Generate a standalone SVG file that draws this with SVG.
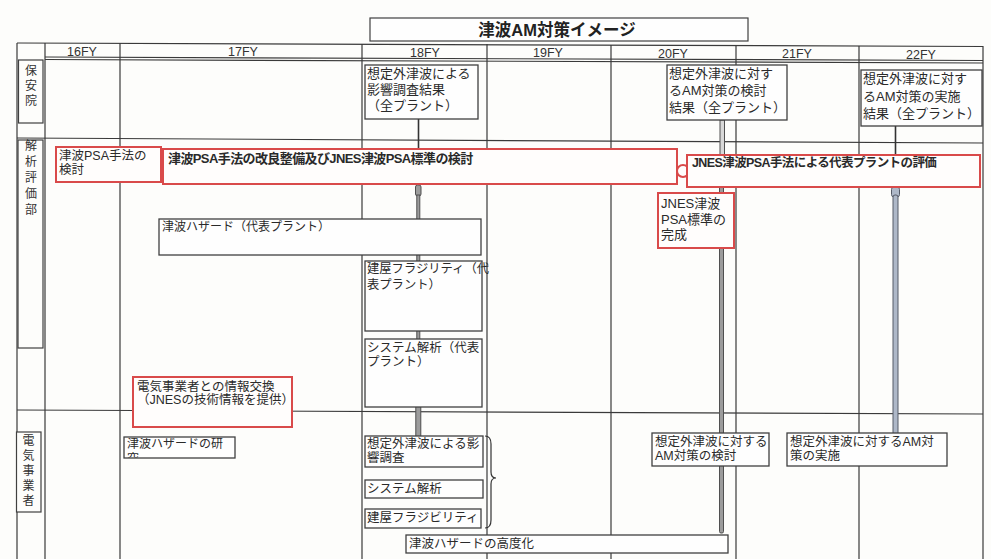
<svg xmlns="http://www.w3.org/2000/svg" width="991" height="559" viewBox="0 0 991 559">
<defs>
<style>
.grid{stroke:#3a3a3a;stroke-width:1.2;fill:none}
.box{fill:#fefefe;stroke:#404040;stroke-width:1.3}
.rbox{fill:#fffdfc;stroke:#d94a4a;stroke-width:2}
.lbl{fill:#fdfdfb;stroke:#404040;stroke-width:1.2}
.t{font-family:"Liberation Sans","Noto Sans CJK JP",sans-serif;fill:#2a2a2a}
.fy{font-family:"Liberation Sans",sans-serif;font-size:12.5px;fill:#333;text-anchor:middle}
.v{font-family:"Noto Sans CJK JP",sans-serif;font-size:12px;fill:#333;writing-mode:vertical-rl}
.pipe{fill:#9c9c9c;stroke:#505050;stroke-width:1}
.bpipe{fill:#aeb8c8;stroke:#555a66;stroke-width:1}
</style>
<clipPath id="clipHaz"><rect x="125" y="438" width="109" height="19.5"/></clipPath>
</defs>
<rect width="991" height="559" fill="#fdfdfb"/>

<g id="title">
<rect x="370" y="18" width="378" height="23" fill="#fefefe" stroke="#404040" stroke-width="1.2"/>
<text x="557" y="36" font-family="Liberation Sans,'Noto Sans CJK JP',sans-serif" font-size="16.5" font-weight="bold" fill="#222" text-anchor="middle">津波AM対策イメージ</text>
</g>

<g id="table">
<line class="grid" x1="17" y1="43" x2="983" y2="46.5"/>
<line class="grid" x1="45" y1="57" x2="983" y2="60.5"/>
<line class="grid" x1="45" y1="59.5" x2="983" y2="63"/>
<line class="grid" x1="17" y1="138" x2="983" y2="143"/>
<line class="grid" x1="17" y1="410" x2="983" y2="414"/>
<line class="grid" x1="17" y1="43" x2="17" y2="559"/>
<line class="grid" x1="45" y1="43" x2="45" y2="559"/>
<line class="grid" x1="120" y1="43" x2="120" y2="559"/>
<line class="grid" x1="362" y1="44" x2="362" y2="559"/>
<line class="grid" x1="487" y1="44" x2="487" y2="559"/>
<line class="grid" x1="611" y1="45" x2="611" y2="559"/>
<line class="grid" x1="736" y1="45" x2="736" y2="559"/>
<line class="grid" x1="859" y1="46" x2="859" y2="559"/>
<line class="grid" x1="983" y1="46" x2="983" y2="559"/>
<text class="fy" x="82" y="56">16FY</text>
<text class="fy" x="243" y="56">17FY</text>
<text class="fy" x="425" y="57">18FY</text>
<text class="fy" x="548" y="57">19FY</text>
<text class="fy" x="673" y="58">20FY</text>
<text class="fy" x="797" y="58">21FY</text>
<text class="fy" x="921" y="59">22FY</text>
</g>

<g id="row-hoanin">
<rect class="lbl" x="18.5" y="60" width="24.5" height="63"/>
<text class="v" x="31" y="64" style="letter-spacing:3px">保安院</text>
</g>
<g id="row-kaiseki">
<rect class="lbl" x="18" y="140" width="25" height="208"/>
<text class="v" x="31" y="139" style="letter-spacing:4px">解析評価部</text>
</g>
<g id="row-denki">
<rect class="lbl" x="16.5" y="432" width="24.5" height="80"/>
<text class="v" x="28.5" y="434" style="letter-spacing:3px">電気事業者</text>
</g>

<g id="connectors">
<line x1="418.5" y1="119" x2="418.5" y2="149" stroke="#333" stroke-width="1.6"/>
<rect class="pipe" x="415.5" y="185" width="5.5" height="11" rx="2"/>
<rect class="pipe" x="416.8" y="195" width="3" height="242"/>
<rect class="pipe" x="415.8" y="405" width="5" height="32"/>
<rect x="720" y="120" width="4.5" height="35" fill="#d8d8d8" stroke="#505050" stroke-width="1"/>
<rect class="pipe" x="719.5" y="186" width="4" height="347" rx="1.5"/>
<line x1="895.5" y1="126" x2="895.5" y2="155" stroke="#333" stroke-width="1.6"/>
<rect class="bpipe" x="891.5" y="187" width="8" height="10" rx="2.5"/>
<rect class="bpipe" x="893" y="195" width="5" height="242" rx="2"/>
<path d="M485,436 Q491,436 491,444 L491,472 Q491,478 496,478 Q491,478 491,484 L491,520 Q491,528 485,528" fill="none" stroke="#333" stroke-width="1.2"/>
</g>

<g id="n-hoanin-18">
<rect class="box" x="365" y="65" width="113" height="54"/>
<text class="t" x="367" y="78" style="font-size:13px">想定外津波による</text>
<text class="t" x="367" y="94" style="font-size:13px">影響調査結果</text>
<text class="t" x="367" y="110" style="font-size:13px">（全プラント）</text>
</g>
<g id="n-hoanin-20">
<rect class="box" x="667" y="65" width="120" height="55"/>
<text class="t" x="669" y="78" style="font-size:13px">想定外津波に対す</text>
<text class="t" x="669" y="95" style="font-size:13px">るAM対策の検討</text>
<text class="t" x="669" y="112" style="font-size:13px">結果（全プラント）</text>
</g>
<g id="n-hoanin-22">
<rect class="box" x="861" y="70" width="121" height="56"/>
<text class="t" x="863" y="83" style="font-size:13px">想定外津波に対す</text>
<text class="t" x="863" y="101" style="font-size:13px">るAM対策の実施</text>
<text class="t" x="863" y="118" style="font-size:13px">結果（全プラント）</text>
</g>

<g id="n-psa-kento">
<rect class="rbox" x="56" y="147" width="105" height="35"/>
<text class="t" x="59" y="160" style="font-size:12.5px">津波PSA手法の</text>
<text class="t" x="59" y="174" style="font-size:12.5px">検討</text>
</g>
<g id="n-psa-kairyo">
<rect class="rbox" x="163" y="149" width="514" height="35"/>
<text class="t" x="168" y="163" style="font-size:13px;font-weight:bold;letter-spacing:-0.6px">津波PSA手法の改良整備及びJNES津波PSA標準の検討</text>
</g>
<g id="n-milestone">
<circle cx="683" cy="171" r="6" fill="#fffdfc" stroke="#d94a4a" stroke-width="2"/>
</g>
<g id="n-psa-hyoka">
<rect class="rbox" x="687" y="155" width="293" height="32"/>
<text class="t" x="692" y="167" style="font-size:12.5px;font-weight:bold;letter-spacing:-0.6px">JNES津波PSA手法による代表プラントの評価</text>
</g>
<g id="n-psa-hyojun">
<rect class="rbox" x="658" y="193" width="76" height="55"/>
<text class="t" x="661" y="208" style="font-size:13px">JNES津波</text>
<text class="t" x="661" y="224" style="font-size:13px">PSA標準の</text>
<text class="t" x="661" y="239" style="font-size:13px">完成</text>
</g>
<g id="n-hazard-rep">
<rect class="box" x="159" y="219" width="322" height="36"/>
<text class="t" x="162" y="231" style="font-size:12px">津波ハザード（代表プラント）</text>
</g>
<g id="n-fragility-rep">
<rect class="box" x="365" y="261" width="117" height="70"/>
<text class="t" x="367" y="273" style="font-size:12.3px">建屋フラジリティ（代</text>
<text class="t" x="367" y="289" style="font-size:12.3px">表プラント）</text>
</g>
<g id="n-system-rep">
<rect class="box" x="365" y="339" width="117" height="68"/>
<text class="t" x="367" y="352" style="font-size:12.5px">システム解析（代表</text>
<text class="t" x="367" y="366" style="font-size:12.5px">プラント）</text>
</g>
<g id="n-info">
<rect class="rbox" x="133" y="377" width="159" height="50"/>
<text class="t" x="137" y="391" style="font-size:12.5px">電気事業者との情報交換</text>
<text class="t" x="137" y="404" style="font-size:12.5px">（JNESの技術情報を提供）</text>
</g>

<g id="n-hazard-study">
<rect class="box" x="124" y="437" width="111" height="21"/>
<g clip-path="url(#clipHaz)">
<text class="t" x="127" y="448" style="font-size:12px">津波ハザードの研</text>
<text class="t" x="127" y="463" style="font-size:12px">究</text>
</g>
</g>
<g id="n-eikyo">
<rect class="box" x="365" y="436" width="118" height="31"/>
<text class="t" x="367" y="448" style="font-size:12.5px">想定外津波による影</text>
<text class="t" x="367" y="462" style="font-size:12.5px">響調査</text>
</g>
<g id="n-system">
<rect class="box" x="365" y="480" width="118" height="18"/>
<text class="t" x="367" y="493" style="font-size:12.5px">システム解析</text>
</g>
<g id="n-fragility">
<rect class="box" x="365" y="509" width="116" height="19"/>
<text class="t" x="367" y="522" style="font-size:12.5px">建屋フラジビリティ</text>
</g>
<g id="n-hazard-adv">
<rect class="box" x="406" y="535" width="322" height="18"/>
<text class="t" x="409" y="548" style="font-size:12.5px">津波ハザードの高度化</text>
</g>
<g id="n-am-kento">
<rect class="box" x="652" y="433" width="117" height="33"/>
<text class="t" x="655" y="446" style="font-size:12.5px">想定外津波に対する</text>
<text class="t" x="655" y="460" style="font-size:12.5px">AM対策の検討</text>
</g>
<g id="n-am-jisshi">
<rect class="box" x="787" y="433" width="160" height="33"/>
<text class="t" x="790" y="446" style="font-size:12.5px">想定外津波に対するAM対</text>
<text class="t" x="790" y="460" style="font-size:12.5px">策の実施</text>
</g>
</svg>
